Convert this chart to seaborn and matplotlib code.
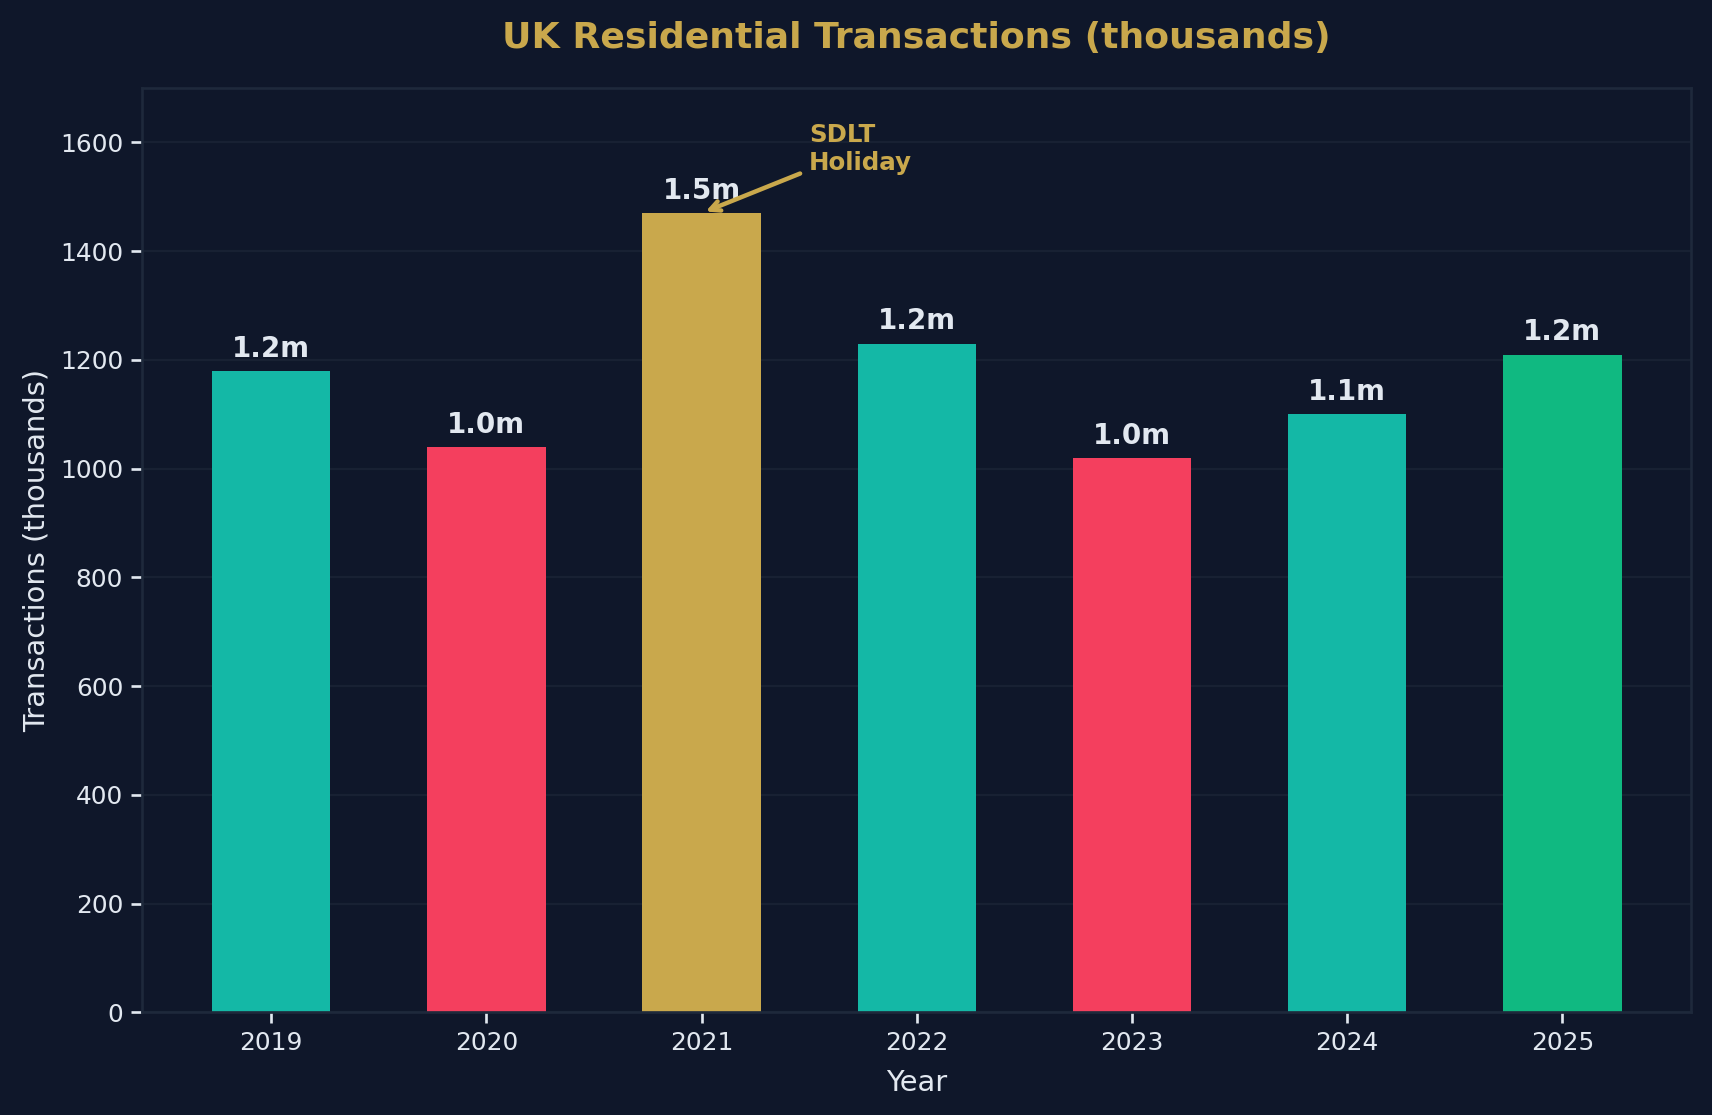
import matplotlib
matplotlib.use("Agg")
import matplotlib.pyplot as plt
import seaborn as sns
import pandas as pd

# data
years = ["2019", "2020", "2021", "2022", "2023", "2024", "2025"]
transactions = [1180, 1040, 1470, 1230, 1020, 1100, 1210]
bar_colors = ["#14b8a6", "#f43f5e", "#c9a84c", "#14b8a6", "#f43f5e", "#14b8a6", "#10b981"]

BG = "#0f172a"
TXT = "#e2e8f0"
GOLD = "#c9a84c"
EDGE = "#1e293b"

sns.set_theme(style="dark")
plt.rcParams["font.family"] = ["DejaVu Sans"]

df = pd.DataFrame({"year": years, "tx": transactions})

fig, ax = plt.subplots(figsize=(10.7, 6.96875), dpi=160)
fig.patch.set_facecolor(BG)
ax.set_facecolor(BG)

sns.barplot(data=df, x="year", y="tx", hue="year", palette=bar_colors,
            legend=False, width=0.55, saturation=1, linewidth=0, ax=ax)

# value labels
for i, v in enumerate(transactions):
    ax.text(i, v + 15, f"{v/1000:.1f}m", ha="center", va="bottom",
            color=TXT, fontsize=12.5, fontweight="bold")

ax.annotate("SDLT\nHoliday", xy=(2.0, 1470), xytext=(2.5, 1540),
            color=GOLD, fontsize=11, fontweight="bold", ha="left", va="bottom",
            arrowprops=dict(arrowstyle="->", color=GOLD, lw=2))

ax.set_xlim(-0.6, 6.6)
ax.set_ylim(0, 1700)
ax.set_yticks(range(0, 1700, 200))
ax.set_title("UK Residential Transactions (thousands)", color=GOLD,
             fontsize=16.3, fontweight="bold", pad=18)
ax.set_xlabel("Year", color=TXT, fontsize=13, labelpad=6)
ax.set_ylabel("Transactions (thousands)", color=TXT, fontsize=13)
ax.tick_params(colors=TXT, labelsize=11.2, length=5, width=1.2, left=True, bottom=True)
ax.grid(axis="y", color="#182133", lw=1)
ax.grid(axis="x", visible=False)
ax.set_axisbelow(True)
for s in ax.spines.values():
    s.set_color(EDGE)
    s.set_linewidth(1.2)
    s.set_visible(True)

fig.subplots_adjust(left=0.083, right=0.988, top=0.921, bottom=0.092)
fig.savefig("out.png", facecolor=BG)
